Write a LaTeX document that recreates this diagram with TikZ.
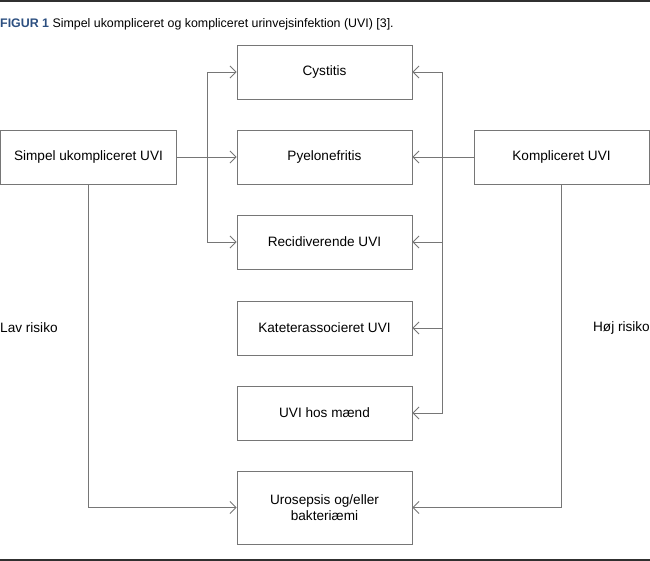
\documentclass[tikz,border=0pt]{standalone}
\usepackage{fontspec}
\setmainfont{Liberation Sans}
\usepackage{tikz}
\usetikzlibrary{arrows.meta}
\definecolor{uviblue}{HTML}{2C4F80}
\definecolor{uvigray}{HTML}{767676}
\definecolor{uvirule}{HTML}{303030}

\begin{document}
\begin{tikzpicture}[x=1pt, y=-1pt,
  uvibox/.style={draw=uvigray, line width=0.9pt, minimum width=175pt, minimum height=54pt, inner sep=2pt, align=center, font=\fontsize{13.6}{16.5}\selectfont},
  uviarrow/.style={draw=uvigray, line width=0.9pt, -{Straight Barb[length=6pt,width=12pt]}},
  uvilabel/.style={inner sep=0pt, font=\fontsize{13.6}{16.5}\selectfont}]
\useasboundingbox (0,0) rectangle (650,561);
\fill[uvirule] (0,0) rectangle (650,2.5);
\fill[uvirule] (0,558.5) rectangle (650,561);
\node[anchor=base west, inner sep=0pt, font=\fontsize{12.4}{15}\selectfont] (title) at (0,28) {\textcolor{uviblue}{\textbf{FIGUR 1}} Simpel ukompliceret og kompliceret urinvejsinfektion (UVI) [3].};
% middle column
\node[uvibox] (cyst) at (324.5,72) {Cystitis};
\node[uvibox] (pyelo) at (324.5,157) {Pyelonefritis};
\node[uvibox] (recid) at (324.5,242) {Recidiverende UVI};
\node[uvibox] (kat) at (324.5,328) {Kateterassocieret UVI};
\node[uvibox] (maend) at (324.5,413) {UVI hos mænd};
\node[uvibox, minimum height=73pt] (uro) at (324.5,507.5) {Urosepsis og/eller\\bakteriæmi};
% sides
\node[uvibox, minimum width=176pt] (simpel) at (88.5,157) {Simpel ukompliceret UVI};
\node[uvibox] (kompl) at (561.5,157) {Kompliceret UVI};
\node[uvilabel, anchor=west] (lav) at (0,328) {Lav risiko};
\node[uvilabel, anchor=east] (hoej) at (650,328) {Høj risiko};
% connectors
\coordinate (lj) at (207,157);
\coordinate (rj) at (442,157);
\draw[uviarrow] (simpel.east) -- (pyelo.west);
\draw[uviarrow] (lj) |- (cyst.west);
\draw[uviarrow] (lj) |- (recid.west);
\draw[uviarrow] (kompl.west) -- (pyelo.east);
\draw[uviarrow] (rj) |- (cyst.east);
\draw[uviarrow] (rj) |- (recid.east);
\draw[uviarrow] (rj) |- (kat.east);
\draw[uviarrow] (rj) |- (maend.east);
\draw[uviarrow] (simpel.south) |- (uro.west);
\draw[uviarrow] (kompl.south) |- (uro.east);
\end{tikzpicture}
\end{document}
